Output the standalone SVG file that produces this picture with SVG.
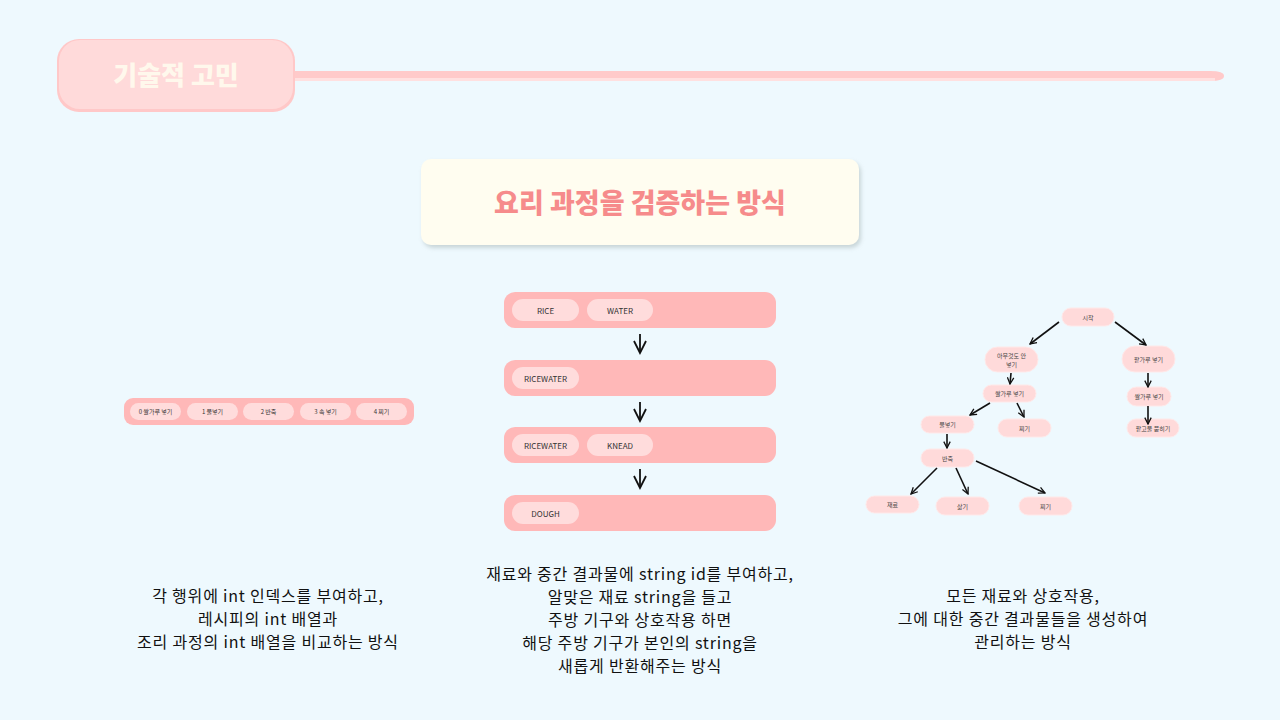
<svg xmlns="http://www.w3.org/2000/svg" width="1280" height="720" viewBox="0 0 1280 720">
<defs>
<marker id="ah" viewBox="0 0 10 10" refX="9" refY="5" markerWidth="8" markerHeight="8" markerUnits="userSpaceOnUse" orient="auto">
<path d="M1,1 L9,5 L1,9" fill="none" stroke="#111" stroke-width="1.6"/>
</marker>
<marker id="ahb" viewBox="0 0 10 10" refX="9" refY="5" markerWidth="15" markerHeight="15" markerUnits="userSpaceOnUse" orient="auto">
<path d="M1,1 L9,5 L1,9" fill="none" stroke="#111" stroke-width="1.2"/>
</marker>
<filter id="sh" x="-10%" y="-20%" width="120%" height="150%">
<feDropShadow dx="2" dy="3" stdDeviation="2" flood-color="#9aa" flood-opacity="0.45"/>
</filter>
</defs>
<style>
.kr{font-family:"Noto Sans CJK KR","Noto Sans",sans-serif;}
.bar{fill:#FFB8B8;}
.pill{fill:#FFDCDC;}
.pt{font-family:"Noto Sans CJK KR","Inter",sans-serif;font-size:8px;fill:#333;text-anchor:middle;dominant-baseline:central;}
.lt{font-family:"Noto Sans CJK KR","Noto Sans",sans-serif;font-size:6px;fill:#333;text-anchor:middle;dominant-baseline:central;}
.tn{fill:#FFDADA;stroke:#FFE9E9;stroke-width:1;}
.tt{font-family:"Noto Sans CJK KR","Noto Sans",sans-serif;font-size:6px;fill:#444;text-anchor:middle;dominant-baseline:central;}
.edge{stroke:#111;stroke-width:1.6;fill:none;marker-end:url(#ah);}
.bigarrow{stroke:#111;stroke-width:1.8;fill:none;marker-end:url(#ahb);}
.desc{font-family:"Noto Sans CJK KR","Noto Sans",sans-serif;font-size:16px;letter-spacing:0.8px;fill:#111;text-anchor:middle;}
</style>
<rect width="1280" height="720" fill="#EEF9FE"/>

<g id="header">
<path d="M290,71 L1210,71 Q1224,71 1224,76 Q1224,81 1210,81 L290,81 Z" fill="#FFCACA"/>
<rect x="290" y="78" width="925" height="3" fill="#FFE0E0"/>
<rect x="57" y="39" width="238" height="73" rx="22" fill="#FFC8C8"/>
<rect x="59" y="40" width="234" height="69" rx="21" fill="#FFDADA"/>
<text x="176" y="85" class="kr" font-size="26" font-weight="900" fill="#FFF8EC" text-anchor="middle">기술적 고민</text>
</g>

<g id="card">
<rect x="421" y="159" width="438" height="86" rx="10" fill="#FFFDF0" filter="url(#sh)"/>
<text x="640" y="213" class="kr" font-size="27" font-weight="900" fill="#F68B8B" text-anchor="middle">요리 과정을 검증하는 방식</text>
</g>

<g id="int-array">
<rect class="bar" x="124" y="398" width="290" height="27" rx="9"/>
<rect class="pill" x="130" y="403" width="51" height="17" rx="8.5"/><text class="lt" x="155.5" y="411.5">0 쌀가루 넣기</text>
<rect class="pill" x="187" y="403" width="51" height="17" rx="8.5"/><text class="lt" x="212.5" y="411.5">1 물넣기</text>
<rect class="pill" x="243" y="403" width="51" height="17" rx="8.5"/><text class="lt" x="268.5" y="411.5">2 반죽</text>
<rect class="pill" x="300" y="403" width="51" height="17" rx="8.5"/><text class="lt" x="325.5" y="411.5">3 속 넣기</text>
<rect class="pill" x="356" y="403" width="51" height="17" rx="8.5"/><text class="lt" x="381.5" y="411.5">4 찌기</text>
</g>

<g id="step1">
<rect class="bar" x="504" y="292" width="272" height="36" rx="11"/>
<rect class="pill" x="512" y="299" width="67" height="22" rx="11"/><text class="pt" x="545.5" y="310">RICE</text>
<rect class="pill" x="587" y="299" width="66" height="22" rx="11"/><text class="pt" x="620" y="310">WATER</text>
</g>
<g id="step2">
<rect class="bar" x="504" y="360" width="272" height="36" rx="11"/>
<rect class="pill" x="512" y="367" width="67" height="22" rx="11"/><text class="pt" x="545.5" y="378">RICEWATER</text>
</g>
<g id="step3">
<rect class="bar" x="504" y="427" width="272" height="36" rx="11"/>
<rect class="pill" x="512" y="434" width="67" height="22" rx="11"/><text class="pt" x="545.5" y="445">RICEWATER</text>
<rect class="pill" x="587" y="434" width="66" height="22" rx="11"/><text class="pt" x="620" y="445">KNEAD</text>
</g>
<g id="step4">
<rect class="bar" x="504" y="495" width="272" height="36" rx="11"/>
<rect class="pill" x="512" y="502" width="67" height="22" rx="11"/><text class="pt" x="545.5" y="513">DOUGH</text>
</g>

<g id="tree-nodes">
<g id="n-start"><rect class="tn" x="1062" y="308" width="52" height="18" rx="9"/><text class="tt" x="1088" y="317">시작</text></g>
<g id="n-none"><rect class="tn" x="985" y="347" width="53" height="25" rx="12.5"/><text class="tt" x="1011.5" y="355">아무것도 안</text><text class="tt" x="1011.5" y="364">넣기</text></g>
<g id="n-rice1"><rect class="tn" x="983" y="385" width="53" height="17" rx="8.5"/><text class="tt" x="1009.5" y="393.5">쌀가루 넣기</text></g>
<g id="n-water"><rect class="tn" x="921" y="416" width="53" height="17" rx="8.5"/><text class="tt" x="947.5" y="424.5">물넣기</text></g>
<g id="n-steam1"><rect class="tn" x="998" y="419" width="53" height="18" rx="9"/><text class="tt" x="1024.5" y="428">찌기</text></g>
<g id="n-knead"><rect class="tn" x="921" y="449" width="53" height="18" rx="9"/><text class="tt" x="947.5" y="458">반죽</text></g>
<g id="n-ingr"><rect class="tn" x="866" y="496" width="53" height="17" rx="8.5"/><text class="tt" x="892.5" y="504.5">재료</text></g>
<g id="n-boil"><rect class="tn" x="936" y="497" width="53" height="18" rx="9"/><text class="tt" x="962.5" y="506">삶기</text></g>
<g id="n-steam2"><rect class="tn" x="1019" y="497" width="53" height="18" rx="9"/><text class="tt" x="1045.5" y="506">찌기</text></g>
<g id="n-bean"><rect class="tn" x="1122" y="346" width="53" height="26" rx="13"/><text class="tt" x="1148.5" y="359">팥가루 넣기</text></g>
<g id="n-rice2"><rect class="tn" x="1127" y="387" width="44" height="19" rx="9.5"/><text class="tt" x="1149" y="396.5">쌀가루 넣기</text></g>
<g id="n-coat"><rect class="tn" x="1127" y="419" width="52" height="18" rx="9"/><text class="tt" x="1153" y="428">팥고물 묻히기</text></g>
</g>

<g id="connectors">
<line class="bigarrow" x1="640" y1="334" x2="640" y2="353"/>
<line class="bigarrow" x1="640" y1="402" x2="640" y2="421"/>
<line class="bigarrow" x1="640" y1="469" x2="640" y2="488"/>
<line class="edge" x1="1059" y1="322" x2="1030" y2="344"/>
<line class="edge" x1="1115" y1="322" x2="1146" y2="345"/>
<line class="edge" x1="1011" y1="373" x2="1010" y2="384"/>
<line class="edge" x1="990" y1="403" x2="970" y2="415"/>
<line class="edge" x1="1017" y1="403" x2="1024" y2="417"/>
<line class="edge" x1="947" y1="434" x2="947" y2="448"/>
<line class="edge" x1="937" y1="468" x2="911" y2="494"/>
<line class="edge" x1="956" y1="468" x2="968" y2="494"/>
<line class="edge" x1="976" y1="461" x2="1045" y2="493"/>
<line class="edge" x1="1148" y1="373" x2="1148" y2="387"/>
<line class="edge" x1="1148" y1="406" x2="1148" y2="424"/>
</g>

<g id="desc-left">
<text class="desc" x="268" y="602">각 행위에 int 인덱스를 부여하고,</text>
<text class="desc" x="268" y="625">레시피의 int 배열과</text>
<text class="desc" x="268" y="648">조리 과정의 int 배열을 비교하는 방식</text>
</g>
<g id="desc-mid">
<text class="desc" x="640" y="580">재료와 중간 결과물에 string id를 부여하고,</text>
<text class="desc" x="640" y="603">알맞은 재료 string을 들고</text>
<text class="desc" x="640" y="626">주방 기구와 상호작용 하면</text>
<text class="desc" x="640" y="649">해당 주방 기구가 본인의 string을</text>
<text class="desc" x="640" y="672">새롭게 반환해주는 방식</text>
</g>
<g id="desc-right">
<text class="desc" x="1023" y="602">모든 재료와 상호작용,</text>
<text class="desc" x="1023" y="625">그에 대한 중간 결과물들을 생성하여</text>
<text class="desc" x="1023" y="648">관리하는 방식</text>
</g>
</svg>
